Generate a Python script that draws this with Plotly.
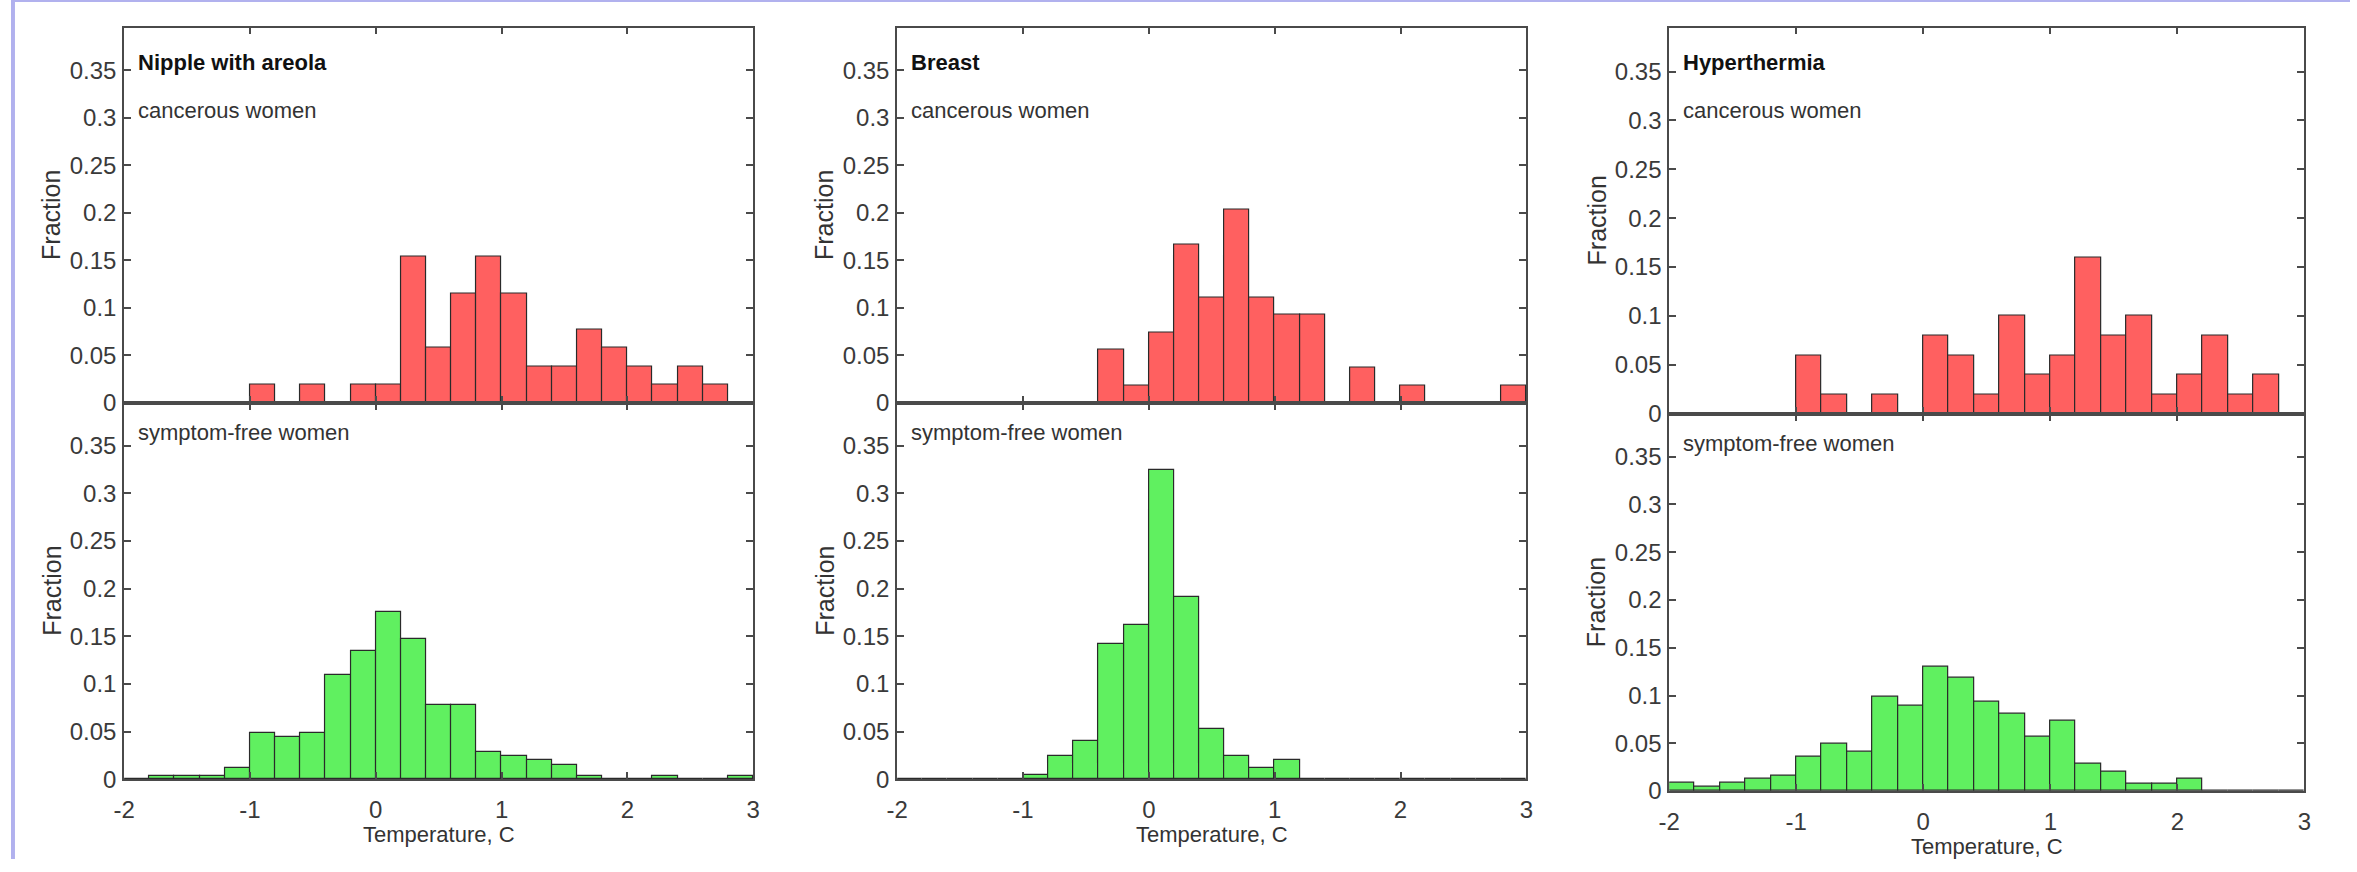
import plotly.graph_objects as go

# ---------------- data ----------------
bin_centers = [-1.9, -1.7, -1.5, -1.3, -1.1, -0.9, -0.7, -0.5, -0.3, -0.1,
               0.1, 0.3, 0.5, 0.7, 0.9, 1.1, 1.3, 1.5, 1.7, 1.9,
               2.1, 2.3, 2.5, 2.7, 2.9]

nipple_cancer = [0, 0, 0, 0, 0, 0.0192, 0, 0.0192, 0, 0.0192,
                 0.0192, 0.1538, 0.0577, 0.1154, 0.1538, 0.1154, 0.0385, 0.0385, 0.0769, 0.0577,
                 0.0385, 0.0192, 0.0385, 0.0192, 0]
nipple_free = [0, 0.0034, 0.0034, 0.0034, 0.012, 0.049, 0.0446, 0.049, 0.1097, 0.1348,
               0.1756, 0.1475, 0.0778, 0.0778, 0.029, 0.024, 0.020, 0.0154, 0.0034, 0,
               0, 0.0034, 0, 0, 0.0034]
breast_cancer = [0, 0, 0, 0, 0, 0, 0, 0, 0.0556, 0.0185,
                 0.0741, 0.1667, 0.1111, 0.2037, 0.1111, 0.0926, 0.0926, 0, 0.037, 0,
                 0.0185, 0, 0, 0, 0.0185]
breast_free = [0, 0, 0, 0, 0, 0.0048, 0.024, 0.0407, 0.1418, 0.162,
               0.325, 0.191, 0.0526, 0.0246, 0.012, 0.0205, 0, 0, 0, 0,
               0, 0, 0, 0, 0]
hyper_cancer = [0, 0, 0, 0, 0, 0.06, 0.02, 0, 0.02, 0,
                0.08, 0.06, 0.02, 0.10, 0.04, 0.06, 0.16, 0.08, 0.10, 0.02,
                0.04, 0.08, 0.02, 0.04, 0]
hyper_free = [0.0086, 0.0045, 0.0086, 0.013, 0.0158, 0.0363, 0.049, 0.041, 0.0987, 0.0894,
              0.130, 0.119, 0.094, 0.081, 0.0565, 0.0737, 0.029, 0.0206, 0.0072, 0.0072,
              0.013, 0, 0, 0, 0]

panel_titles = ["Nipple with areola", "Breast", "Hyperthermia"]
top_label = "cancerous women"
bottom_label = "symptom-free women"
y_label = "Fraction"
x_label = "Temperature, C"
x_tickvals = [-2, -1, 0, 1, 2, 3]
x_ticktext = ["-2", "-1", "0", "1", "2", "3"]
y_tickvals = [0, 0.05, 0.1, 0.15, 0.2, 0.25, 0.3, 0.35]
y_ticktext = ["0", "0.05", "0.1", "0.15", "0.2", "0.25", "0.3", "0.35"]

cancer_series = [nipple_cancer, breast_cancer, hyper_cancer]
free_series = [nipple_free, breast_free, hyper_free]

# ---------------- layout geometry (pixels) ----------------
W, H = 2357, 872
cols = [
    dict(x0=114, x1=748, ytop=28, ymid=409, ybot=791),
    dict(x0=893, x1=1527, ytop=28, ymid=409, ybot=791),
    dict(x0=1671, x1=2311, ytop=28, ymid=420, ybot=803),
]

RED = "#ff6060"
GREEN = "#60f060"
EDGE = "#2a2a2a"
AXC = "#4a4a4a"
TICKFONT = dict(family="Liberation Sans, Arial, sans-serif", size=24, color="#3a3a3a")
LBLFONT = dict(family="Liberation Sans, Arial, sans-serif", size=22, color="#333333")
YLBLFONT = dict(family="Liberation Sans, Arial, sans-serif", size=25, color="#333333")


def px(x):
    return x / W


def py(y):
    return 1 - y / H


fig = go.Figure()
layout = dict(
    width=W, height=H,
    margin=dict(l=0, r=0, t=0, b=0),
    paper_bgcolor="white", plot_bgcolor="white",
    showlegend=False, bargap=0,
)
annotations = []
shapes = []

for i, c in enumerate(cols):
    for j in range(2):  # 0 top, 1 bottom
        k = i * 2 + j + 1
        xa = "x" if k == 1 else f"x{k}"
        ya = "y" if k == 1 else f"y{k}"
        vals = cancer_series[i] if j == 0 else free_series[i]
        color = RED if j == 0 else GREEN
        fig.add_trace(go.Bar(
            x=bin_centers, y=vals, width=0.2,
            marker=dict(color=color, line=dict(color=EDGE, width=1.2)),
            xaxis=xa, yaxis=ya, hoverinfo="x+y",
        ))
        if j == 0:
            ydom = [py(c["ymid"]), py(c["ytop"])]
        else:
            ydom = [py(c["ybot"]), py(c["ymid"])]
        axname_x = "xaxis" if k == 1 else f"xaxis{k}"
        axname_y = "yaxis" if k == 1 else f"yaxis{k}"
        layout[axname_x] = dict(
            domain=[px(c["x0"]), px(c["x1"])], anchor=ya,
            range=[-2, 3], tickvals=x_tickvals, ticktext=x_ticktext,
            showticklabels=(j == 1), ticks="inside", ticklen=7, tickwidth=1.5,
            tickcolor=AXC, showline=True, linecolor=AXC, linewidth=1.8,
            mirror="ticks", showgrid=False, zeroline=False,
            tickfont=TICKFONT, ticklabelstandoff=8,
        )
        layout[axname_y] = dict(
            domain=ydom, anchor=xa,
            range=[0, 0.395], tickvals=y_tickvals, ticktext=y_ticktext,
            ticks="inside", ticklen=7, tickwidth=1.5, tickcolor=AXC,
            showline=True, linecolor=AXC, linewidth=1.8, mirror="ticks",
            showgrid=False, zeroline=False, tickfont=TICKFONT,
            ticklabelstandoff=1,
        )
        annotations.append(dict(
            text=y_label, textangle=-90, showarrow=False,
            xref="paper", yref="paper",
            x=px(c["x0"] - 73), y=(ydom[0] + ydom[1]) / 2,
            xanchor="center", yanchor="middle", font=YLBLFONT,
        ))
    annotations.append(dict(
        text="<b>" + panel_titles[i] + "</b>", showarrow=False,
        xref="paper", yref="paper", x=px(c["x0"] + 12), y=py(c["ytop"] + 35),
        xanchor="left", yanchor="middle",
        font=dict(family="Liberation Sans, Arial, sans-serif", size=22, color="#111111"),
    ))
    annotations.append(dict(
        text=top_label, showarrow=False,
        xref="paper", yref="paper", x=px(c["x0"] + 12), y=py(c["ytop"] + 84),
        xanchor="left", yanchor="middle", font=LBLFONT,
    ))
    annotations.append(dict(
        text=bottom_label, showarrow=False,
        xref="paper", yref="paper", x=px(c["x0"] + 12), y=py(c["ymid"] + 30),
        xanchor="left", yanchor="middle", font=LBLFONT,
    ))
    annotations.append(dict(
        text=x_label, showarrow=False,
        xref="paper", yref="paper", x=px((c["x0"] + c["x1"]) / 2), y=py(c["ybot"] + 56),
        xanchor="center", yanchor="middle", font=LBLFONT,
    ))

# lavender frame strips (left and top edge)
shapes.append(dict(type="rect", xref="paper", yref="paper", x0=0, x1=px(4), y0=0, y1=1,
                   fillcolor="#b1b1ee", line=dict(width=0), layer="above"))
shapes.append(dict(type="rect", xref="paper", yref="paper", x0=0, x1=1, y0=py(2), y1=1,
                   fillcolor="#b1b1ee", line=dict(width=0), layer="above"))

layout["annotations"] = annotations
layout["shapes"] = shapes
fig.update_layout(**layout)
fig.write_html("out.html", config={"displayModeBar": False},
               post_script="document.body.style.margin='0';document.body.style.overflow='hidden';")
